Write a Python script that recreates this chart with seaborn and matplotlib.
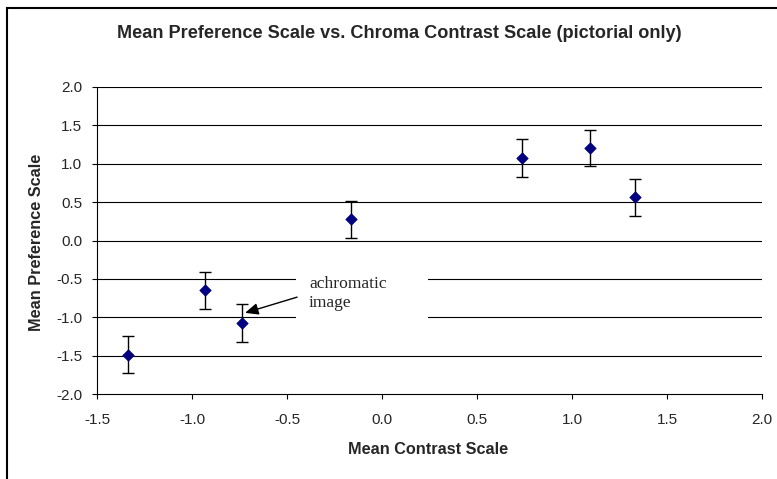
import matplotlib
matplotlib.use("Agg")
import matplotlib.pyplot as plt
import seaborn as sns
import pandas as pd
from matplotlib.patches import Rectangle

# data
contrast = [-1.337, -0.932, -0.735, -0.165, 0.735, 1.095, 1.333]
preference = [-1.49, -0.647, -1.073, 0.275, 1.078, 1.209, 0.562]
error = [0.24, 0.24, 0.245, 0.24, 0.25, 0.235, 0.24]
x_ticks = [-1.5, -1.0, -0.5, 0.0, 0.5, 1.0, 1.5, 2.0]
y_ticks = [-2.0, -1.5, -1.0, -0.5, 0.0, 0.5, 1.0, 1.5, 2.0]

df = pd.DataFrame({"contrast": contrast, "preference": preference, "error": error})

sns.set_style("white")
plt.rcParams["font.family"] = ["Liberation Sans", "DejaVu Sans"]
plt.rcParams["axes.unicode_minus"] = False

fig = plt.figure(figsize=(7.77, 4.79), dpi=100)
W, H = 777, 479
ax = fig.add_axes([97 / W, 1 - 394 / H, (762 - 97) / W, (394 - 87) / H])

# horizontal gridlines
for y in y_ticks[1:]:
    ax.axhline(y, color="black", lw=0.8, zorder=1)

ax.errorbar(df["contrast"], df["preference"], yerr=df["error"], fmt="none",
            ecolor="black", elinewidth=1, capsize=4, capthick=1, zorder=3)
sns.scatterplot(data=df, x="contrast", y="preference", marker="D", s=34,
                color="#000080", edgecolor="#000080", linewidth=0.5, ax=ax, zorder=4)

ax.set_xlim(-1.5, 2.0)
ax.set_ylim(-2.0, 2.0)
ax.set_xticks(x_ticks)
ax.set_yticks(y_ticks)
ax.set_xticklabels([f"{v:.1f}" for v in x_ticks])
ax.set_yticklabels([f"{v:.1f}" for v in y_ticks])
ax.tick_params(axis="both", which="major", labelsize=11, length=3.6, width=0.8,
               color="black", direction="out", bottom=True, left=True)
ax.tick_params(axis="x", pad=10)
ax.tick_params(axis="y", pad=7)
for side in ["top", "right"]:
    ax.spines[side].set_visible(False)
for side in ["left", "bottom"]:
    ax.spines[side].set_color("black")
    ax.spines[side].set_linewidth(0.8)

ax.set_xlabel("")
ax.set_ylabel("")
fig.text(428 / W, 1 - 454 / H, "Mean Contrast Scale", ha="center", va="baseline",
         fontsize=11.7, fontweight="bold")
fig.text(37 / W, 1 - 242 / H, "Mean Preference Scale", ha="center", va="center",
         fontsize=11.7, fontweight="bold", rotation=90)
fig.text(399 / W, 1 - 38 / H, "Mean Preference Scale vs. Chroma Contrast Scale (pictorial only)",
         ha="center", va="baseline", fontsize=13.1, fontweight="bold")

# annotation with white background box
ax.add_patch(Rectangle((-0.453, -1.2), 0.695, 0.95, facecolor="white",
                       edgecolor="none", zorder=2))
ax.text(-0.384, -0.69, "achromatic\nimage", ha="left", va="center",
        fontsize=12.6, family=["Liberation Serif", "DejaVu Serif"],
        linespacing=1.25, zorder=5)
ax.annotate("", xy=(-0.721, -0.943), xytext=(-0.447, -0.738),
            arrowprops=dict(arrowstyle="-|>,head_length=0.8,head_width=0.35",
                            color="black", lw=1, shrinkA=0, shrinkB=0), zorder=5)

# outer chart border
fig.patches.append(Rectangle((7 / W, -0.05), 1.1, 1 - 8 / H + 0.05, transform=fig.transFigure,
                             fill=False, edgecolor="black", linewidth=1.5))

fig.savefig("out.png", dpi=100)
